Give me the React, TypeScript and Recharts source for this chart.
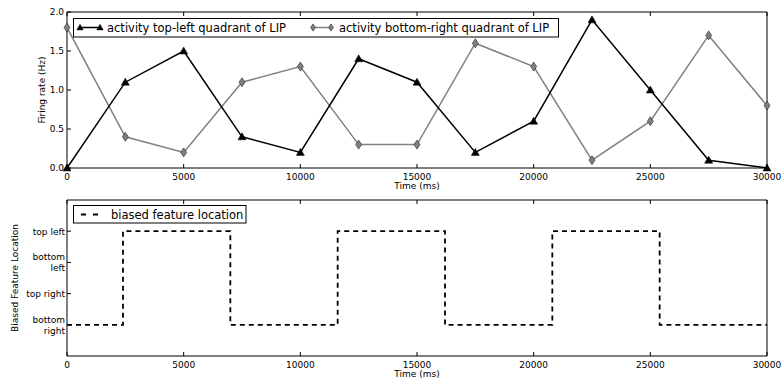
import React from 'react';
import { LineChart, Line, XAxis, YAxis, Label } from 'recharts';

const times = [0, 2500, 5000, 7500, 10000, 12500, 15000, 17500, 20000, 22500, 25000, 27500, 30000];
const topLeftActivity = [0, 1.1, 1.5, 0.4, 0.2, 1.4, 1.1, 0.2, 0.6, 1.9, 1.0, 0.1, 0.0];
const bottomRightActivity = [1.8, 0.4, 0.2, 1.1, 1.3, 0.3, 0.3, 1.6, 1.3, 0.1, 0.6, 1.7, 0.8];

const stepTimes = [0, 2400, 7000, 11600, 16200, 20800, 25400, 30000];
const biasedLocation = [1, 4, 1, 4, 1, 4, 1, 1];

const xTicks = [0, 5000, 10000, 15000, 20000, 25000, 30000];
const rateTicks = [0, 0.5, 1, 1.5, 2];
const locationTicks = [1, 2, 3, 4];
const locationLabels: Record<number, string[]> = {
  1: ['bottom', 'right'],
  2: ['top right'],
  3: ['bottom', 'left'],
  4: ['top left'],
};

const legendTop = ['activity top-left quadrant of LIP', 'activity bottom-right quadrant of LIP'];
const legendBottom = 'biased feature location';

const topData = times.map((t, i) => ({ t, a: topLeftActivity[i], b: bottomRightActivity[i] }));
const stepData = stepTimes.map((t, i) => ({ t, loc: biasedLocation[i] }));

const FONT = 'DejaVu Sans';
const TICK_FS = 9;

const BottomTick = (props: any) => {
  const { x, y, payload } = props;
  return (
    <g>
      <line x1={x} x2={x} y1={y} y2={y - 4} stroke="#000" strokeWidth={1} />
      <text x={x} y={y + 12} textAnchor="middle" fontSize={TICK_FS} fontFamily={FONT} fill="#000">
        {payload.value}
      </text>
    </g>
  );
};

const TopTick = (props: any) => {
  const { x, y } = props;
  return <line x1={x} x2={x} y1={y} y2={y + 4} stroke="#000" strokeWidth={1} />;
};

const RightTick = (props: any) => {
  const { x, y } = props;
  return <line x1={x} x2={x - 4} y1={y} y2={y} stroke="#000" strokeWidth={1} />;
};

const RateTick = (props: any) => {
  const { x, y, payload } = props;
  return (
    <g>
      <line x1={x} x2={x + 4} y1={y} y2={y} stroke="#000" strokeWidth={1} />
      <text x={x - 3} y={y + 3.3} textAnchor="end" fontSize={TICK_FS} fontFamily={FONT} fill="#000">
        {Number(payload.value).toFixed(1)}
      </text>
    </g>
  );
};

const LocationTick = (props: any) => {
  const { x, y, payload } = props;
  const lines = locationLabels[payload.value] || [];
  const lh = 11;
  const start = y - ((lines.length - 1) * lh) / 2;
  return (
    <g>
      <line x1={x} x2={x + 4} y1={y} y2={y} stroke="#000" strokeWidth={1} />
      {lines.map((l, i) => (
        <text key={i} x={x - 2} y={start + i * lh + 3.3} textAnchor="end" fontSize={TICK_FS} fontFamily={FONT} fill="#000">
          {l}
        </text>
      ))}
    </g>
  );
};

const xLabel = (props: any) => {
  const vb = props.viewBox || { x: 67, y: 0, width: 700, height: 0 };
  return (
    <text x={vb.x + vb.width / 2} y={vb.y + 21} textAnchor="middle" fontSize={TICK_FS} fontFamily={FONT} fill="#000">
      Time (ms)
    </text>
  );
};

const yLabel = (text: string, cx: number) => (props: any) => {
  const vb = props.viewBox || { x: 0, y: 0, width: 0, height: 0 };
  const cy = vb.y + vb.height / 2;
  return (
    <text
      x={cx}
      y={cy}
      transform={`rotate(-90 ${cx} ${cy})`}
      textAnchor="middle"
      dominantBaseline="central"
      fontSize={TICK_FS}
      fontFamily={FONT}
      fill="#000"
    >
      {text}
    </text>
  );
};

const TriangleDot = (props: any) => {
  const { cx, cy } = props;
  const s = props.s ?? 1;
  if (cx == null || cy == null) return null;
  return (
    <path
      d={`M${cx},${cy - 4 * s}L${cx + 4 * s},${cy + 3 * s}L${cx - 4 * s},${cy + 3 * s}Z`}
      fill="#000"
      stroke="#000"
      strokeWidth={0.5}
    />
  );
};

const DiamondDot = (props: any) => {
  const { cx, cy } = props;
  const s = props.s ?? 1;
  if (cx == null || cy == null) return null;
  return (
    <path
      d={`M${cx},${cy - 4.5 * s}L${cx + 3 * s},${cy}L${cx},${cy + 4.5 * s}L${cx - 3 * s},${cy}Z`}
      fill="#808080"
      stroke="#222"
      strokeWidth={0.6}
    />
  );
};

export default function App() {
  return (
    <div style={{ position: 'absolute', left: 0, top: 0, width: 782, height: 381, background: '#fff', fontFamily: FONT }}>
      <div style={{ position: 'absolute', left: 0, top: 0 }}>
        <LineChart width={782} height={190} data={topData} margin={{ top: 11, right: 14, bottom: 0, left: 0 }}>
          <XAxis
            dataKey="t"
            type="number"
            domain={[0, 30000]}
            ticks={xTicks}
            interval={0}
            height={22}
            tickSize={0}
            tickMargin={0}
            tickLine={false}
            tick={<BottomTick />}
            axisLine={{ stroke: '#000' }}
          >
            <Label content={xLabel} />
          </XAxis>
          <XAxis
            xAxisId="top"
            orientation="top"
            dataKey="t"
            type="number"
            domain={[0, 30000]}
            ticks={xTicks}
            interval={0}
            height={1}
            tickSize={0}
            tickMargin={0}
            tickLine={false}
            tick={<TopTick />}
            axisLine={{ stroke: '#000' }}
          />
          <YAxis
            type="number"
            domain={[0, 2]}
            ticks={rateTicks}
            interval={0}
            width={67}
            tickSize={0}
            tickMargin={0}
            tickLine={false}
            tick={<RateTick />}
            axisLine={{ stroke: '#000' }}
          >
            <Label content={yLabel('Firing rate (Hz)', 42)} />
          </YAxis>
          <YAxis
            yAxisId="right"
            orientation="right"
            type="number"
            domain={[0, 2]}
            ticks={rateTicks}
            interval={0}
            width={1}
            tickSize={0}
            tickMargin={0}
            tickLine={false}
            tick={<RightTick />}
            axisLine={{ stroke: '#000' }}
          />
          <Line
            dataKey="b"
            stroke="#808080"
            strokeWidth={1.5}
            dot={<DiamondDot />}
            activeDot={false}
            isAnimationActive={false}
            type="linear"
          />
          <Line
            dataKey="a"
            stroke="#000"
            strokeWidth={1.5}
            dot={<TriangleDot />}
            activeDot={false}
            isAnimationActive={false}
            type="linear"
          />
        </LineChart>
      </div>
      <div style={{ position: 'absolute', left: 0, top: 190 }}>
        <LineChart width={782} height={191} data={stepData} margin={{ top: 9, right: 14, bottom: 0, left: 0 }}>
          <XAxis
            dataKey="t"
            type="number"
            domain={[0, 30000]}
            ticks={xTicks}
            interval={0}
            height={25}
            tickSize={0}
            tickMargin={0}
            tickLine={false}
            tick={<BottomTick />}
            axisLine={{ stroke: '#000' }}
          >
            <Label content={xLabel} />
          </XAxis>
          <XAxis
            xAxisId="top"
            orientation="top"
            dataKey="t"
            type="number"
            domain={[0, 30000]}
            ticks={xTicks}
            interval={0}
            height={1}
            tickSize={0}
            tickMargin={0}
            tickLine={false}
            tick={<TopTick />}
            axisLine={{ stroke: '#000' }}
          />
          <YAxis
            type="number"
            domain={[0, 5]}
            ticks={locationTicks}
            interval={0}
            width={67}
            tickSize={0}
            tickMargin={0}
            tickLine={false}
            tick={<LocationTick />}
            axisLine={{ stroke: '#000' }}
          >
            <Label content={yLabel('Biased Feature Location', 15)} />
          </YAxis>
          <YAxis
            yAxisId="right"
            orientation="right"
            type="number"
            domain={[0, 5]}
            ticks={locationTicks}
            interval={0}
            width={1}
            tickSize={0}
            tickMargin={0}
            tickLine={false}
            tick={<RightTick />}
            axisLine={{ stroke: '#000' }}
          />
          <Line
            dataKey="loc"
            type="stepAfter"
            stroke="#000"
            strokeWidth={1.8}
            strokeDasharray="5 4"
            dot={false}
            activeDot={false}
            isAnimationActive={false}
          />
        </LineChart>
      </div>
      <svg width={782} height={381} style={{ position: 'absolute', left: 0, top: 0, pointerEvents: 'none' }}>
        <rect x={73.5} y={18.5} width={485} height={18.5} fill="#fff" stroke="#000" strokeWidth={1} />
        <line x1={80} x2={100} y1={27.5} y2={27.5} stroke="#000" strokeWidth={1.5} />
        <TriangleDot cx={80} cy={27.5} s={0.8} />
        <TriangleDot cx={100} cy={27.5} s={0.8} />
        <text x={107} y={31.7} fontSize={11.5} fontFamily={FONT} fill="#000">
          {legendTop[0]}
        </text>
        <line x1={313} x2={331} y1={27.5} y2={27.5} stroke="#808080" strokeWidth={1.5} />
        <DiamondDot cx={313} cy={27.5} s={0.8} />
        <DiamondDot cx={331} cy={27.5} s={0.8} />
        <text x={339} y={31.7} fontSize={11.5} fontFamily={FONT} fill="#000">
          {legendTop[1]}
        </text>
        <rect x={73.5} y={205.5} width={172.5} height={17.5} fill="#fff" stroke="#000" strokeWidth={1} />
        <line x1={81} x2={98} y1={214.5} y2={214.5} stroke="#000" strokeWidth={1.8} strokeDasharray="5 7" />
        <text x={111} y={218.7} fontSize={11.5} fontFamily={FONT} fill="#000">
          {legendBottom}
        </text>
      </svg>
    </div>
  );
}
